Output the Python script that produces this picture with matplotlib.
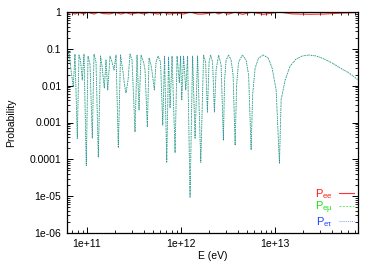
import matplotlib
matplotlib.use("Agg")
import matplotlib.pyplot as plt
import numpy as np
from matplotlib.ticker import LogLocator, NullFormatter, FixedLocator, FixedFormatter

plt.rcParams['font.family'] = ['Liberation Sans', 'DejaVu Sans']

# Energies (eV) and probabilities
E_mix = [6.13e10, 6.44e10, 6.76e10, 7.15e10, 7.45e10, 7.89e10, 8.22e10, 8.53e10, 8.91e10,
         9.29e10, 9.83e10, 1.025e11, 1.076e11, 1.139e11, 1.187e11, 1.247e11, 1.319e11,
         1.392e11, 1.444e11, 1.528e11, 1.593e11, 1.660e11, 1.757e11, 1.845e11, 1.938e11,
         2.035e11, 2.153e11, 2.272e11, 2.415e11, 2.506e11, 2.599e11, 2.731e11, 2.868e11,
         3.011e11, 3.241e11, 3.404e11, 3.574e11, 3.754e11, 3.990e11, 4.140e11, 4.380e11,
         4.566e11, 4.796e11, 4.975e11, 5.200e11, 5.420e11, 5.692e11, 6.051e11, 6.386e11,
         6.674e11, 7.043e11, 7.362e11, 7.638e11, 8.021e11, 8.635e11, 9.067e11, 9.592e11,
         9.878e11, 1.017e12, 1.063e12, 1.122e12, 1.173e12, 1.246e12, 1.326e12, 1.409e12,
         1.498e12, 1.620e12, 1.735e12, 1.823e12, 1.905e12, 1.986e12, 2.060e12, 2.163e12,
         2.261e12, 2.357e12, 2.506e12, 2.664e12, 2.818e12, 2.902e12, 3.011e12, 3.201e12,
         3.404e12, 3.574e12, 3.754e12, 3.894e12, 4.089e12, 4.488e12, 4.915e12, 5.224e12,
         5.555e12, 5.762e12, 6.126e12, 6.674e12, 7.507e12, 8.424e12, 9.292e12, 1.025e13,
         1.111e13, 1.158e13, 1.277e13, 1.444e13, 1.673e13, 1.938e13, 2.300e13, 2.731e13,
         3.321e13, 4.040e13, 4.915e13, 6.126e13, 7.638e13]

P_emu = [0.0497, 0.0818, 0.0266, 0.0093, 0.0721, 0.00037, 0.0679, 0.0497, 0.0142,
         0.0721, 0.000068, 0.0639, 0.0386, 0.00037, 0.0721, 0.0439, 0.000114,
         0.0639, 0.0342, 0.0086, 0.0497, 0.0076, 0.0639, 0.0439, 0.0266,
         0.0679, 0.00021, 0.0679, 0.0234, 0.0104, 0.0063, 0.0142, 0.0721,
         0.0497, 0.00055, 0.0679, 0.0022, 0.0679, 0.0439, 0.0266, 0.00075,
         0.0565, 0.0364, 0.0194, 0.0076, 0.0439, 0.0639, 0.0439, 0.00085,
         0.0639, 0.000083, 0.0600, 0.0025, 0.0639, 0.00015, 0.0639, 0.0118,
         0.0639, 0.0041, 0.0639, 0.0076, 0.0639, 0.0000094, 0.0639, 0.00037,
         0.0639, 0.000083, 0.0679, 0.0439, 0.00192, 0.0439, 0.0679, 0.0439,
         0.00192, 0.0266, 0.0679, 0.0364, 0.00033, 0.0142, 0.0497, 0.0679,
         0.0497, 0.0194, 0.00024, 0.0104, 0.0439, 0.0679, 0.0497, 0.0194,
         0.00018, 0.0056, 0.0301, 0.0565, 0.0679, 0.0565, 0.0301, 0.0076,
         0.000078, 0.0041, 0.0142, 0.0342, 0.0530, 0.0639, 0.0679, 0.0639,
         0.0530, 0.0413, 0.0301, 0.0220, 0.0142]

P_etau = list(P_emu)

E_ee = [6.13e10, 6.8e10, 7.45e10, 8.2e10, 9.3e10, 1.0e11, 1.19e11, 1.32e11, 1.5e11,
        1.76e11, 2.0e11, 2.3e11, 2.6e11, 2.9e11, 3.5e11, 4.0e11, 4.6e11, 5.7e11,
        6.5e11, 7.4e11, 9.0e11, 1.06e12, 1.25e12, 1.5e12, 1.7e12, 2.3e12, 2.5e12,
        2.8e12, 3.2e12, 3.75e12, 4.5e12, 5.6e12, 7.5e12, 1.11e13, 1.5e13, 2.3e13,
        3.3e13, 4.9e13, 7.6e13]
P_ee = [0.90, 0.98, 0.88, 0.97, 0.88, 0.99, 0.88, 0.99, 0.90,
        0.89, 0.97, 0.88, 0.96, 0.88, 0.95, 0.89, 0.97, 0.88,
        0.98, 0.88, 0.93, 0.88, 0.999, 0.88, 0.88, 0.98, 0.88,
        0.99, 0.875, 0.99, 0.865, 0.99, 0.865, 0.995, 0.89, 0.865,
        0.88, 0.93, 0.97]

y_ticks = [1, 0.1, 0.01, 0.001, 0.0001, 1e-05, 1e-06]
y_labels = ["1", "0.1", "0.01", "0.001", "0.0001", "1e-05", "1e-06"]
x_ticks = [1e11, 1e12, 1e13]
x_labels = ["1e+11", "1e+12", "1e+13"]

fig = plt.figure(figsize=(3.75, 2.63), dpi=100)
ax = fig.add_axes([67/375, 1-233/263, (358-67)/375, (233-12)/263])

red = '#ff1a1a'
green = '#1ee01e'
blue = '#2040ff'

ax.plot(E_ee, P_ee, color=red, lw=0.8, alpha=0.9, label=r'$\mathregular{P_{ee}}$')
ax.plot(E_mix, P_emu, color=green, lw=0.6, alpha=0.75, ls=(0, (2.5, 1.5)), label=r'$\mathregular{P_{e\mu}}$')
ax.plot(E_mix, P_etau, color=blue, lw=0.6, alpha=0.75, ls=(0, (1, 1.5)), label=r'$\mathregular{P_{e\tau}}$')

ax.set_xscale('log')
ax.set_yscale('log')
ax.set_xlim(6.13e10, 7.6e13)
ax.set_ylim(1e-6, 1)

ax.yaxis.set_major_locator(FixedLocator(y_ticks))
ax.yaxis.set_major_formatter(FixedFormatter(y_labels))
ax.xaxis.set_major_locator(FixedLocator(x_ticks))
ax.xaxis.set_major_formatter(FixedFormatter(x_labels))
ax.xaxis.set_minor_locator(LogLocator(base=10, subs=np.arange(2, 10), numticks=20))
ax.yaxis.set_minor_locator(LogLocator(base=10, subs=np.arange(2, 10), numticks=20))
ax.xaxis.set_minor_formatter(NullFormatter())
ax.yaxis.set_minor_formatter(NullFormatter())

ax.tick_params(which='both', direction='in', top=True, right=True, labelsize=7.5, pad=4)
ax.tick_params(which='major', length=4, width=0.7)
ax.tick_params(which='minor', length=2, width=0.6)
for s in ax.spines.values():
    s.set_linewidth(0.9)

ax.set_xlabel('E (eV)', fontsize=7.5, labelpad=2)
ax.set_ylabel('Probability', fontsize=7.5, labelpad=10)

leg = ax.legend(loc='lower right', frameon=False, markerfirst=False, fontsize=8,
                handlelength=1.3, labelspacing=-0.1, borderaxespad=0.3,
                handletextpad=0.6, borderpad=0.1)
for t, c in zip(leg.get_texts(), [red, green, blue]):
    t.set_color(c)

fig.savefig('out.png', dpi=100)
